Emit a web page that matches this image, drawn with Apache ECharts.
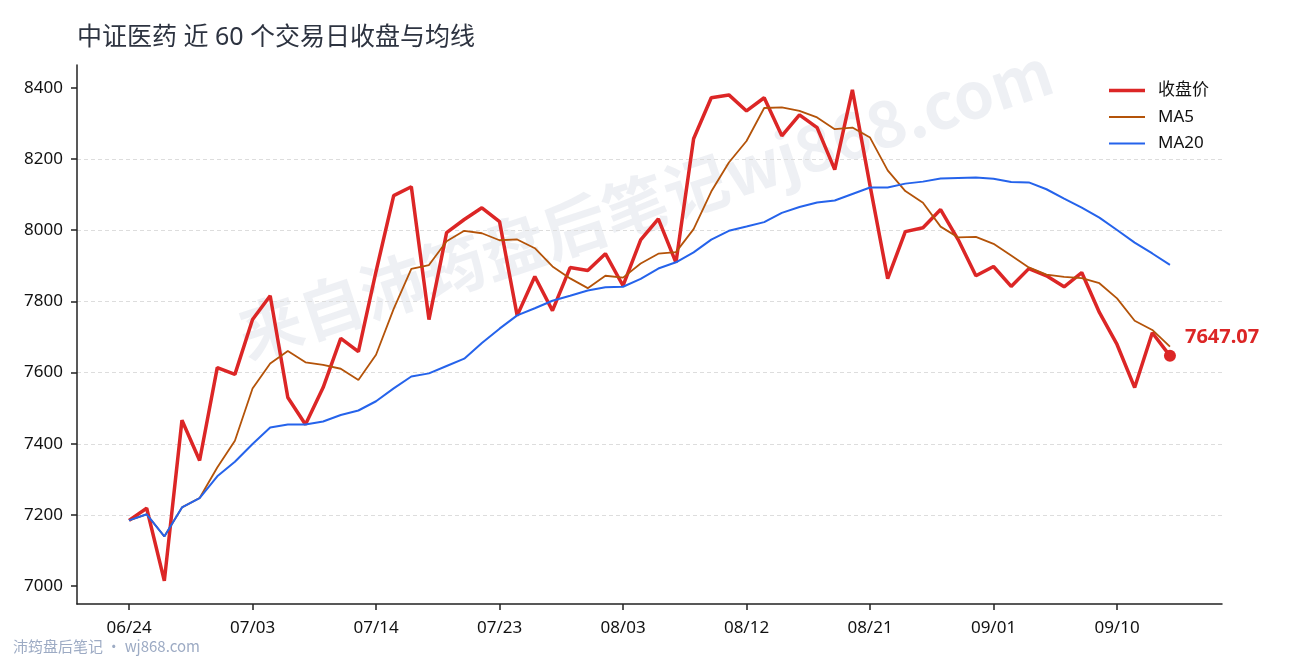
<!DOCTYPE html>
<html>
<head>
    <meta charset="utf-8" />
    <title>中证医药 近 60 个交易日收盘与均线</title>
    <script src="https://cdn.jsdelivr.net/npm/echarts@6/dist/echarts.min.js"></script>
    <style type="text/css">
        html,
        body {
            width: 100%;
            height: 100%;
            margin: 0;
            background: #ffffff;
        }

        #main {
            width: 1290px;
            height: 660px;
        }
    </style>
</head>
<body>
    <div id="main"></div>
    <script>
        var dates = [
            '06/24', '06/25', '06/26', '06/29', '06/30', '07/01', '07/02', '07/03', '07/06', '07/07',
            '07/08', '07/09', '07/10', '07/13', '07/14', '07/15', '07/16', '07/17', '07/20', '07/21',
            '07/22', '07/23', '07/24', '07/27', '07/28', '07/29', '07/30', '07/31', '08/03', '08/04',
            '08/05', '08/06', '08/07', '08/10', '08/11', '08/12', '08/13', '08/14', '08/17', '08/18',
            '08/19', '08/20', '08/21', '08/24', '08/25', '08/26', '08/27', '08/28', '08/31', '09/01',
            '09/02', '09/03', '09/04', '09/07', '09/08', '09/09', '09/10', '09/11', '09/14', '09/15'
        ];

        var closePrice = [
            7185, 7219, 7015, 7466, 7353, 7614, 7595, 7749, 7816, 7530,
            7454, 7558, 7696, 7659, 7884, 8097, 8122, 7749, 7993, 8030,
            8063, 8024, 7760, 7870, 7774, 7895, 7887, 7934, 7844, 7973,
            8032, 7909, 8257, 8372, 8380, 8335, 8372, 8265, 8324, 8288,
            8170, 8394, 8125, 7864, 7996, 8007, 8058, 7973, 7872, 7898,
            7842, 7892, 7872, 7841, 7881, 7769, 7679, 7558, 7712, 7647.07
        ];

        var ma5 = [
            7185, 7202, 7139.7, 7221.3, 7247.6, 7333.4, 7408.6, 7555.4, 7625.4, 7660.8,
            7628.8, 7621.4, 7610.8, 7579.4, 7650.2, 7778.8, 7891.6, 7902.2, 7969, 7998.2,
            7991.4, 7971.8, 7974, 7949.4, 7898.2, 7864.6, 7837.2, 7872, 7866.8, 7906.6,
            7934, 7938.4, 8003, 8108.6, 8190, 8250.6, 8343.2, 8344.8, 8335.2, 8316.8,
            8283.8, 8288.2, 8260.2, 8168.2, 8109.8, 8077.2, 8010, 7979.6, 7981.2, 7961.6,
            7928.6, 7895.4, 7875.2, 7869, 7865.6, 7851, 7808.4, 7745.6, 7719.8, 7673
        ];

        var ma20 = [
            7185, 7202, 7139.7, 7221.3, 7247.6, 7308.7, 7349.6, 7399.5, 7445.8, 7454.2,
            7454.2, 7462.8, 7480.8, 7493.5, 7519.5, 7555.6, 7589.0, 7597.8, 7618.6, 7639.2,
            7683.1, 7723.4, 7760.6, 7780.8, 7801.9, 7815.9, 7830.5, 7839.8, 7841.2, 7863.3,
            7892.2, 7909.8, 7937.8, 7973.5, 7998.3, 8010.2, 8022.7, 8048.5, 8065, 8077.9,
            8083.3, 8101.8, 8120, 8119.7, 8130.8, 8136.4, 8145, 8146.9, 8148.3, 8144.6,
            8135.1, 8134.2, 8115, 8088.4, 8063.5, 8035.2, 8000.5, 7965.2, 7934.6, 7902.5
        ];

        var yTicks = [7000, 7200, 7400, 7600, 7800, 8000, 8200, 8400];
        var xTickIdx = [0, 7, 14, 21, 28, 35, 42, 49, 56];

        function pairs(arr) {
            return arr.map(function (v, i) { return [i, v]; });
        }

        var last = closePrice.length - 1;
        var axisColor = '#222222';
        var font = '"Noto Sans", "Noto Sans CJK SC", sans-serif';
        var cjkFont = '"Noto Sans CJK SC", "Noto Sans", sans-serif';

        var chart = echarts.init(document.getElementById('main'), null, { renderer: 'canvas' });

        var option = {
            animation: false,
            backgroundColor: '#ffffff',
            textStyle: { fontFamily: font },
            title: {
                text: '中证医药 近 60 个交易日收盘与均线',
                left: 72,
                top: 20,
                textStyle: { fontSize: 25, fontWeight: 'normal', color: '#2d3340', fontFamily: font }
            },
            graphic: [
                {
                    type: 'text',
                    x: 645,
                    y: 203,
                    rotation: 0.32,
                    z: 0,
                    silent: true,
                    style: {
                        text: '来自沛筠盘后笔记wj868.com',
                        fontSize: 64,
                        fontWeight: 'bold',
                        fontFamily: cjkFont,
                        fill: 'rgba(40, 60, 110, 0.08)',
                        align: 'center',
                        verticalAlign: 'middle'
                    }
                },
                {
                    type: 'text',
                    left: 13,
                    top: 639,
                    silent: true,
                    style: {
                        text: '沛筠盘后笔记 · wj868.com',
                        fontSize: 15,
                        fontFamily: cjkFont,
                        fill: '#9dabc4'
                    }
                }
            ],
            legend: {
                orient: 'vertical',
                left: 1109,
                top: 82,
                padding: 0,
                itemWidth: 36,
                itemHeight: 14,
                itemGap: 9.5,
                symbolKeepAspect: true,
                data: [
                    { name: '收盘价', icon: 'path://M0,0H36V3.4H0Z' },
                    { name: 'MA5', icon: 'path://M0,0H36V2H0Z' },
                    { name: 'MA20', icon: 'path://M0,0H36V2.2H0Z' }
                ],
                textStyle: { fontSize: 17, color: '#111111', padding: [0, 0, 0, 8], fontFamily: font }
            },
            grid: {
                left: 77,
                right: 68,
                top: 65,
                bottom: 56,
                containLabel: false
            },
            xAxis: {
                type: 'value',
                min: -2.95,
                max: 61.95,
                axisLine: { show: true, onZero: false, lineStyle: { color: axisColor, width: 1.5 } },
                axisTick: { show: true, length: 6, customValues: xTickIdx, lineStyle: { color: axisColor, width: 1.5 } },
                axisLabel: {
                    customValues: xTickIdx,
                    margin: 16,
                    fontSize: 17,
                    color: '#111111',
                    formatter: function (v) { return dates[Math.round(v)] || ''; }
                },
                splitLine: { show: false }
            },
            yAxis: {
                type: 'value',
                min: 6950,
                max: 8464,
                axisLine: { show: true, onZero: false, lineStyle: { color: axisColor, width: 1.5 } },
                axisTick: { show: true, length: 6, customValues: yTicks, lineStyle: { color: axisColor, width: 1.5 } },
                axisLabel: {
                    customValues: yTicks,
                    margin: 14,
                    fontSize: 17,
                    color: '#111111',
                    formatter: function (v) { return String(v); }
                },
                splitLine: {
                    show: true,
                    showMinLine: false,
                    showMaxLine: false,
                    lineStyle: { color: '#dddddd', width: 1, type: [4, 3] }
                }
            },
            series: [
                {
                    name: '收盘价',
                    type: 'line',
                    data: pairs(closePrice),
                    showSymbol: false,
                    symbol: 'none',
                    color: '#dc2626',
                    lineStyle: { width: 3.5, color: '#dc2626' },
                    z: 3
                },
                {
                    name: 'MA5',
                    type: 'line',
                    data: pairs(ma5),
                    showSymbol: false,
                    symbol: 'none',
                    color: '#b45309',
                    lineStyle: { width: 1.8, color: '#b45309' },
                    z: 4
                },
                {
                    name: 'MA20',
                    type: 'line',
                    data: pairs(ma20),
                    showSymbol: false,
                    symbol: 'none',
                    color: '#2563eb',
                    lineStyle: { width: 2, color: '#2563eb' },
                    z: 4
                },
                {
                    name: 'last',
                    type: 'scatter',
                    data: [[last, closePrice[last]]],
                    symbolSize: 12,
                    itemStyle: { color: '#dc2626', opacity: 1 },
                    z: 5,
                    label: {
                        show: true,
                        position: 'right',
                        distance: 9,
                        offset: [0, -19],
                        fontSize: 20,
                        fontWeight: 'bold',
                        color: '#dc2626',
                        opacity: 1,
                        formatter: function (p) { return p.value[1].toFixed(2); }
                    }
                }
            ]
        };

        chart.setOption(option);
    </script>
</body>
</html>
